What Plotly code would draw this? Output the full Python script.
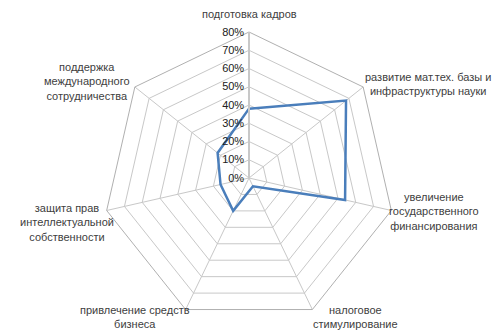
import plotly.graph_objects as go

categories = [
    "подготовка кадров",
    "развитие мат.тех. базы и<br>инфраструктуры науки",
    "увеличение<br>государственного<br>финансирования",
    "налоговое<br>стимулирование",
    "привлечение средств<br>бизнеса",
    "защита прав<br>интеллектуальной<br>собственности",
    "поддержка<br>международного<br>сотрудничества",
]
values = [38, 68, 54, 5, 20, 16, 22]
radial_ticks = [0, 10, 20, 30, 40, 50, 60, 70, 80]

# label anchor positions (pixels) for category labels
label_pos = [
    (249, 14),
    (428, 84),
    (434, 212),
    (355, 317),
    (135, 317),
    (67, 222),
    (87, 82),
]

W, H = 494, 332
fig = go.Figure()
fig.add_trace(go.Scatterpolar(
    r=values + [values[0]],
    theta=categories + [categories[0]],
    mode="lines",
    line=dict(color="#4a7ebb", width=2.5),
    hoverinfo="skip",
    showlegend=False,
))

annotations = []
for cat, (x, y) in zip(categories, label_pos):
    annotations.append(dict(
        x=x / W, y=1 - y / H, xref="paper", yref="paper",
        text=cat, showarrow=False, xanchor="center", yanchor="middle",
        align="center", font=dict(family="Liberation Sans", size=11, color="#404040"),
    ))

fig.update_layout(
    width=W, height=H,
    margin=dict(l=0, r=0, t=0, b=0),
    paper_bgcolor="white",
    plot_bgcolor="white",
    showlegend=False,
    annotations=annotations,
    polar=dict(
        domain=dict(x=[103 / W, 395 / W], y=[1 - 324 / H, 1 - 32 / H]),
        bgcolor="white",
        gridshape="linear",
        angularaxis=dict(
            type="category",
            categoryorder="array",
            categoryarray=categories,
            showticklabels=False,
            rotation=90,
            direction="clockwise",
            showline=True,
            linecolor="#b0b0b0",
            linewidth=1,
            gridcolor="#c8c8c8",
            gridwidth=1,
            ticks="",
        ),
        radialaxis=dict(
            range=[0, 80],
            tickvals=radial_ticks,
            ticktext=[f"{v}%" for v in radial_ticks],
            angle=90,
            tickangle=90,
            showline=True,
            linecolor="#c8c8c8",
            linewidth=2,
            gridcolor="#c8c8c8",
            gridwidth=1,
            ticks="",
            side="counterclockwise",
            tickfont=dict(family="Liberation Sans", size=11, color="#202020"),
        ),
    ),
)

fig.write_html("out.html")
